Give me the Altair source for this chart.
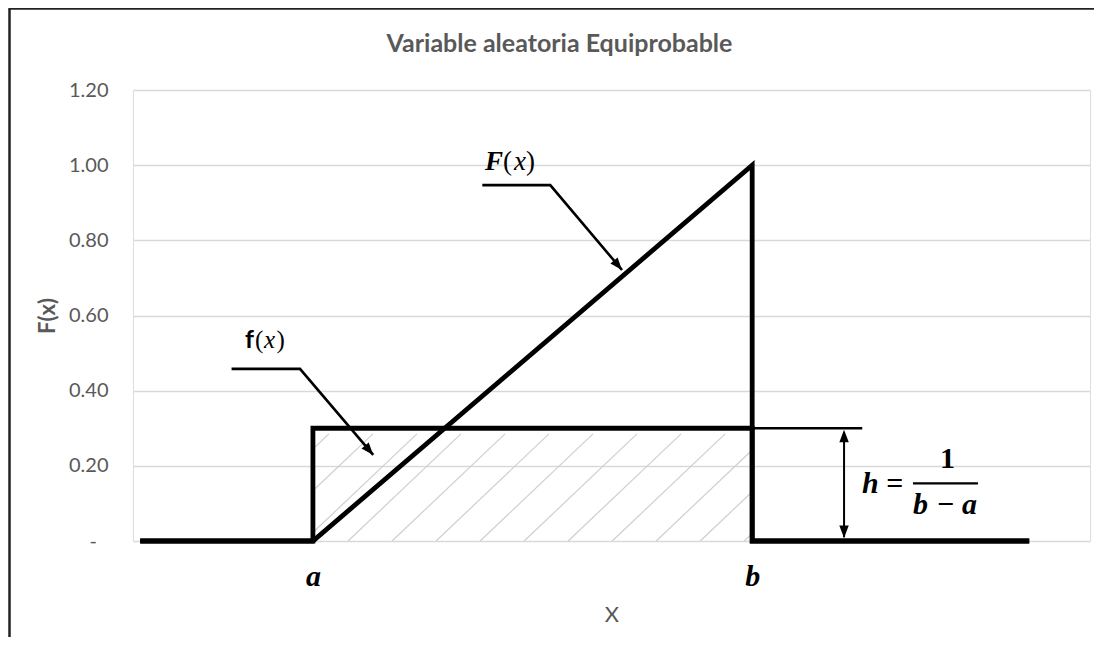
import math
import altair as alt
import pandas as pd

# ---------------- data ----------------
title_text = "Variable aleatoria Equiprobable"
y_ticks = [0, 0.2, 0.4, 0.6, 0.8, 1.0, 1.2]
x_labels = ["a", "b"]

# key positions on the x axis (arbitrary units)
x_start = 0.10
a_val = 1.88
b_val = 6.47
x_end = 9.34
h_val = 0.30      # height of the density f(x)
F_top = 1.00      # top of the distribution F(x)

F_x = [x_start, a_val, b_val, b_val, x_end]
F_y = [0, 0, F_top, 0, 0]
f_x = [x_start, a_val, a_val, b_val, b_val, x_end]
f_y = [0, 0, h_val, h_val, 0, 0]

# annotation anchors (data units)
F_leader_x = [3.65, 4.36, 5.11]
F_leader_y = [0.947, 0.947, 0.721]
f_leader_x = [1.03, 1.745, 2.51]
f_leader_y = [0.458, 0.458, 0.229]
h_marker_end = 7.62
h_arrow_x = 7.43
h_bar_x = [8.15, 8.83]
h_bar_y = 0.1535

# label pieces: (x, y, text)
F_lbl_letter = [(3.678, 0.987, "F")]
F_lbl_paren = [(3.866, 0.987, "("), (4.106, 0.987, ")")]
F_lbl_var = [(3.981, 0.987, "x")]
f_lbl_letter = [(1.170, 0.5135, "f")]
f_lbl_paren = [(1.275, 0.5135, "("), (1.500, 0.5135, ")")]
f_lbl_var = [(1.369, 0.5135, "x")]
h_italic = [(7.618, 0.1277, "h"), (8.150, 0.0718, "b"), (8.662, 0.0718, "a")]
h_upright = [(7.87, 0.1277, "="), (8.433, 0.194, "1"), (8.401, 0.0718, "\u2212")]

# ---------------- layout ----------------
W, H = 957, 451
PAD = {"left": 125, "top": 82, "right": 4, "bottom": 96}
XMIN, XMAX = 0.0, 10.0
YMIN, YMAX = 0.0, 1.2
sx = W / (XMAX - XMIN)
sy = H / (YMAX - YMIN)

GRAY = "#595959"
SANS = "Lato"
SERIF = "Liberation Serif"

xscale = alt.Scale(domain=[XMIN, XMAX], nice=False, zero=False)
yscale = alt.Scale(domain=[YMIN, YMAX], nice=False, zero=False)

mid = (a_val + b_val) / 2
xaxis = alt.Axis(
    values=[a_val, b_val],
    labelExpr=f"datum.value < {mid} ? '{x_labels[0]}' : '{x_labels[1]}'",
    grid=False, domain=False, ticks=False, tickSize=0,
    labelPadding=44, labelBaseline="alphabetic",
    labelFont=SERIF, labelFontStyle="italic", labelFontWeight="bold",
    labelFontSize=30, labelColor="black", labelFlush=False, labelOverlap=False,
    title="X", titleFont=SANS, titleFontSize=22, titleFontWeight="normal",
    titleColor=GRAY, titleY=80, titleBaseline="alphabetic",
)
yaxis = alt.Axis(
    values=y_ticks,
    labelExpr="datum.value == 0 ? '-\u2007\u200b' : format(datum.value, '.2f')",
    grid=True, gridColor="#d9d9d9", gridWidth=1.5,
    domain=False, ticks=False, tickSize=0, labelPadding=25,
    labelFont=SANS, labelFontSize=20, labelColor=GRAY,
    title="F(x)", titleFont=SANS, titleFontWeight="bold", titleFontSize=22,
    titleColor=GRAY, titleX=-86, titleY=H / 2, titleAngle=270,
    titleBaseline="middle", titleAlign="center",
)


def X(f="x"):
    return alt.X(f"{f}:Q", scale=xscale, axis=xaxis)


def Y(f="y"):
    return alt.Y(f"{f}:Q", scale=yscale, axis=yaxis)


def pieces(lst):
    return pd.DataFrame([{"x": x, "y": y, "t": t} for x, y, t in lst])


# ---------------- tables ----------------
lines_df = pd.DataFrame(
    [{"s": "F", "i": i, "x": x, "y": y} for i, (x, y) in enumerate(zip(F_x, F_y))]
    + [{"s": "f", "i": i, "x": x, "y": y} for i, (x, y) in enumerate(zip(f_x, f_y))]
)

leaders_df = pd.DataFrame(
    [{"s": "F", "i": i, "x": x, "y": y} for i, (x, y) in enumerate(zip(F_leader_x, F_leader_y))]
    + [{"s": "f", "i": i, "x": x, "y": y} for i, (x, y) in enumerate(zip(f_leader_x, f_leader_y))]
)

# hatch pattern inside the rectangle [a, b] x [0, h]
hatch_top = 0.285
hatch_run = 1.18
hatch_step = 0.46
slope = hatch_top / hatch_run
hatch = []
s = 2.247 - 3 * hatch_step
while s < b_val:
    x1, y1, x2, y2 = s, 0.0, s + hatch_run, hatch_top
    if x2 > a_val:
        if x1 < a_val:
            y1 = (a_val - s) * slope
            x1 = a_val
        if x2 > b_val:
            y2 = (b_val - s) * slope
            x2 = b_val
        hatch.append({"x": x1, "y": y1, "x2": x2, "y2": y2})
    s += hatch_step
hatch_df = pd.DataFrame(hatch)

thin_df = pd.DataFrame([
    {"x": b_val, "y": h_val, "x2": h_marker_end, "y2": h_val, "w": 2.6},
    {"x": h_arrow_x, "y": h_val - 0.01, "x2": h_arrow_x, "y2": 0.01, "w": 2.0},
    {"x": h_bar_x[0], "y": h_bar_y, "x2": h_bar_x[1], "y2": h_bar_y, "w": 2.2},
])


def angle_of(x1, y1, x2, y2):
    dx = (x2 - x1) * sx
    dy = -(y2 - y1) * sy
    return math.degrees(math.atan2(dx, -dy)) % 360


heads_df = pd.DataFrame([
    {"x": F_leader_x[2], "y": F_leader_y[2],
     "ang": angle_of(F_leader_x[1], F_leader_y[1], F_leader_x[2], F_leader_y[2])},
    {"x": f_leader_x[2], "y": f_leader_y[2],
     "ang": angle_of(f_leader_x[1], f_leader_y[1], f_leader_x[2], f_leader_y[2])},
    {"x": h_arrow_x, "y": h_val - 0.004, "ang": 0.0},
    {"x": h_arrow_x, "y": 0.008, "ang": 180.0},
])

# ---------------- layers ----------------
hatch_layer = alt.Chart(hatch_df).mark_rule(color="#cfcfcf", strokeWidth=1.2).encode(
    x=X(), y=Y(), x2="x2", y2="y2")

main_lines = alt.Chart(lines_df).mark_line(
    color="black", strokeWidth=4.8, strokeJoin="miter", strokeCap="square"
).encode(x=X(), y=Y(), detail="s:N", order="i:Q")

leaders = alt.Chart(leaders_df).mark_line(
    color="black", strokeWidth=2.6, strokeJoin="miter"
).encode(x=X(), y=Y(), detail="s:N", order="i:Q")

thin = alt.Chart(thin_df).mark_rule(color="black").encode(
    x=X(), y=Y(), x2="x2", y2="y2",
    strokeWidth=alt.StrokeWidth("w:Q", scale=None))

heads = alt.Chart(heads_df).mark_point(
    shape="M0,0L-0.38,1L0.38,1Z", filled=True, color="black", opacity=1, size=620
).encode(x=X(), y=Y(), angle=alt.Angle("ang:Q", scale=None))


def text_layer(lst, font, size, style="normal", weight="normal", align="left"):
    return alt.Chart(pieces(lst)).mark_text(
        font=font, fontSize=size, fontStyle=style, fontWeight=weight,
        color="black", align=align, baseline="alphabetic"
    ).encode(x=X(), y=Y(), text="t:N")


txt_F = text_layer(F_lbl_letter, SERIF, 27, "italic", "bold")
txt_Fp = text_layer(F_lbl_paren, SERIF, 27)
txt_Fx = text_layer(F_lbl_var, SERIF, 27, "italic")
txt_f = text_layer(f_lbl_letter, SANS, 25, "normal", "bold")
txt_fp = text_layer(f_lbl_paren, SERIF, 25)
txt_fx = text_layer(f_lbl_var, SERIF, 25, "italic")
txt_hi = text_layer(h_italic, SERIF, 30, "italic", "bold")
txt_hu = text_layer(h_upright, SERIF, 30, "normal", "bold")

title_layer = alt.Chart(pd.DataFrame({"t": [title_text]})).mark_text(
    font=SANS, fontSize=25, fontWeight="bold", color=GRAY,
    align="center", baseline="alphabetic"
).encode(x=alt.value(426.5), y=alt.value(-38), text="t:N")

dummy = pd.DataFrame({"d": [0]})
border_left = alt.Chart(dummy).mark_rule(color="#222222", strokeWidth=2.5).encode(
    x=alt.value(-123.5), y=alt.value(-81.5), y2=alt.value(H + PAD["bottom"]))
border_top = alt.Chart(dummy).mark_rule(color="#222222", strokeWidth=2.5).encode(
    x=alt.value(-124.5), x2=alt.value(W + PAD["right"]), y=alt.value(-81.5))

chart = alt.layer(
    hatch_layer, main_lines, leaders, thin, heads,
    txt_F, txt_Fp, txt_Fx, txt_f, txt_fp, txt_fx, txt_hi, txt_hu,
    title_layer, border_left, border_top,
).properties(
    width=W, height=H,
    autosize=alt.AutoSizeParams(type="none"),
    padding=PAD,
).configure_view(stroke=None).configure(background="white")

chart.save("out.html", embed_options={"renderer": "svg", "actions": False})
